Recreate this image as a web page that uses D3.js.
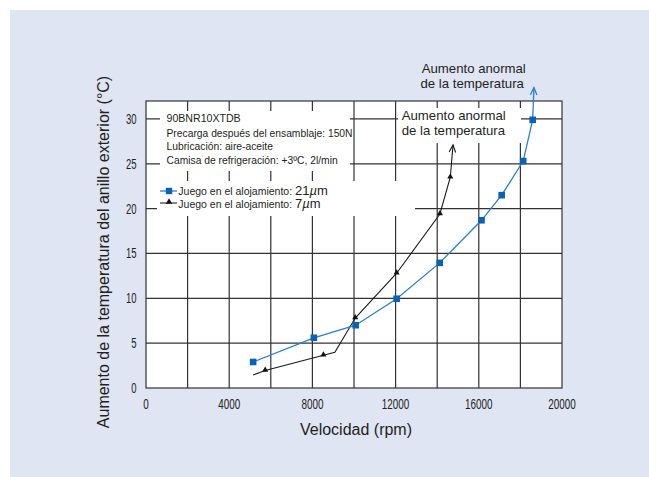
<!DOCTYPE html>
<html>
<head>
<meta charset="utf-8">
<script src="https://cdn.jsdelivr.net/npm/d3@7"></script>
<style>
  html, body { margin: 0; padding: 0; background: #ffffff; }
  svg { display: block; font-family: "Liberation Sans", Arial, Helvetica, sans-serif; }
</style>
</head>
<body>
<svg id="chart" width="649" height="477"></svg>
<script>
// ---- data ----
const xTicks = [0, 4000, 8000, 12000, 16000, 20000];
const xGrid = [2000, 4000, 6000, 8000, 10000, 12000, 14000, 16000, 18000];
const yTicks = [0, 5, 10, 15, 20, 25, 30];
const yGrid = [5, 10, 15, 20, 25, 30];

// Juego en el alojamiento: 21 µm (blue squares)
const blueX = [5150, 8070, 10080, 12050, 14120, 16130, 17100, 18135, 18590];
const blueY = [2.9, 5.6, 7.0, 9.95, 13.95, 18.7, 21.5, 25.3, 29.9];
const blueArrowTip = [18650, 33.5];

// Juego en el alojamiento: 7 µm (black triangles)
const blackX = [5150, 5730, 8530, 9080, 10060, 12050, 14130, 14630];
const blackY = [1.45, 1.95, 3.65, 3.98, 7.8, 12.8, 19.4, 23.5];
const blackMarker = [false, true, true, false, true, true, true, true];
const blackArrowTip = [14760, 27.1];

const infoLines = [
  "90BNR10XTDB",
  "Precarga después del ensamblaje: 150N",
  "Lubricación: aire-aceite",
  "Camisa de refrigeración: +3ºC, 2l/min"
];
const legendLabel = "Juego en el alojamiento: ";
const legendValues = ["21", "7"];
const annotation = ["Aumento anormal", "de la temperatura"];
const xTitle = "Velocidad (rpm)";
const yTitle = "Aumento de la temperatura del anillo exterior (°C)";

// ---- drawing ----
const svg = d3.select("#chart");
const textColor = "#231f20";
const gridColor = "#333333";
const blueLine = "#2a7fd0";
const blueMark = "#0a62b4";

svg.append("rect").attr("x", 10).attr("y", 10).attr("width", 639).attr("height", 467).attr("fill", "#dfe5f2");

const x = d3.scaleLinear().domain([0, 20000]).range([146, 562]);
const y = d3.scaleLinear().domain([0, 32]).range([388, 101]);

// plot background
svg.append("rect").attr("x", x(0)).attr("y", y(32)).attr("width", x(20000) - x(0)).attr("height", y(0) - y(32)).attr("fill", "#fff");

// gridlines
const g = svg.append("g").attr("stroke", gridColor).attr("stroke-width", 1.2);
g.selectAll("line.v").data(xGrid).join("line").attr("class", "v")
  .attr("x1", d => x(d)).attr("x2", d => x(d)).attr("y1", y(32)).attr("y2", y(0));
g.selectAll("line.h").data(yGrid).join("line").attr("class", "h")
  .attr("x1", x(0)).attr("x2", x(20000)).attr("y1", d => y(d)).attr("y2", d => y(d));
g.append("rect").attr("x", x(0)).attr("y", y(32)).attr("width", x(20000) - x(0)).attr("height", y(0) - y(32))
  .attr("fill", "none");

// white boxes behind texts
const boxes = [
  [160, 111, 190, 60],
  [157, 181, 258, 35],
  [398, 108, 123, 35]
];
svg.selectAll("rect.box").data(boxes).join("rect").attr("class", "box")
  .attr("x", d => d[0]).attr("y", d => d[1]).attr("width", d => d[2]).attr("height", d => d[3]).attr("fill", "#fff");

// tick labels (condensed)
svg.append("g").selectAll("text").data(xTicks).join("text")
  .attr("transform", d => `translate(${x(d)},409) scale(0.66,1)`)
  .attr("text-anchor", "middle").attr("font-size", 15).attr("fill", textColor).text(d => d);
svg.append("g").selectAll("text").data(yTicks).join("text")
  .attr("transform", d => `translate(136.5,${y(d) + 5}) scale(0.68,1)`)
  .attr("text-anchor", "end").attr("font-size", 14).attr("fill", textColor).text(d => d);

// axis titles
svg.append("text").attr("x", 356).attr("y", 435).attr("text-anchor", "middle")
  .attr("font-size", 16).attr("fill", textColor).text(xTitle);
svg.append("text").attr("transform", "translate(108.5,252) rotate(-90)").attr("text-anchor", "middle")
  .attr("font-size", 16).attr("fill", textColor).text(yTitle);

// info text
svg.append("g").selectAll("text").data(infoLines).join("text")
  .attr("x", 166.5).attr("y", (d, i) => [121.5, 136.5, 149.5, 163.5][i])
  .attr("font-size", (d, i) => i === 0 ? 10.6 : 10.3).attr("fill", textColor).text(d => d);

// legend
const leg = svg.append("g");
const legY = [191, 203];
const legT = [194.5, 208];
leg.append("line").attr("x1", 160).attr("x2", 177).attr("y1", legY[0]).attr("y2", legY[0]).attr("stroke", blueLine).attr("stroke-width", 1.3);
leg.append("rect").attr("x", 169 - 3.2).attr("y", legY[0] - 3.2).attr("width", 6.4).attr("height", 6.4).attr("fill", blueMark);
leg.append("line").attr("x1", 160).attr("x2", 177).attr("y1", legY[1]).attr("y2", legY[1]).attr("stroke", "#111").attr("stroke-width", 1);
leg.append("path").attr("d", d3.symbol(d3.symbolTriangle, 18)()).attr("transform", `translate(169,${legY[1] - 1})`).attr("fill", "#111");
legendValues.forEach((v, i) => {
  const t = leg.append("text").attr("x", 178.3).attr("y", legT[i]).attr("font-size", 10.5).attr("fill", textColor);
  t.append("tspan").text(legendLabel);
  t.append("tspan").attr("font-size", 13).text(v);
  t.append("tspan").attr("font-size", 13).attr("font-style", "italic").text("µ");
  t.append("tspan").attr("font-size", 13).text("m");
});

// annotations
svg.append("g").selectAll("text").data(annotation).join("text")
  .attr("x", (d, i) => i === 0 ? 421.7 : 420.5).attr("y", (d, i) => [72.5, 88][i])
  .attr("font-size", 13.2).attr("fill", textColor).text(d => d);
svg.append("g").selectAll("text").data(annotation).join("text")
  .attr("x", 401.7).attr("y", (d, i) => [119.5, 135][i])
  .attr("font-size", 13.2).attr("fill", textColor).text(d => d);

// series lines
const line = d3.line().x(d => x(d[0])).y(d => y(d[1]));
const blueData = blueX.map((v, i) => [v, blueY[i]]).concat([blueArrowTip]);
const blackData = blackX.map((v, i) => [v, blackY[i]]).concat([blackArrowTip]);

function arrowHead(from, tip, color, w) {
  const x1 = x(from[0]), y1 = y(from[1]), x2 = x(tip[0]), y2 = y(tip[1]);
  const a = Math.atan2(y2 - y1, x2 - x1);
  const len = 8, spread = 0.42;
  const p = d3.path();
  p.moveTo(x2 - len * Math.cos(a - spread), y2 - len * Math.sin(a - spread));
  p.lineTo(x2, y2);
  p.lineTo(x2 - len * Math.cos(a + spread), y2 - len * Math.sin(a + spread));
  svg.append("path").attr("d", p.toString()).attr("fill", "none").attr("stroke", color).attr("stroke-width", w);
}

svg.append("path").datum(blackData).attr("d", line).attr("fill", "none").attr("stroke", "#1a1a1a").attr("stroke-width", 1.1);
arrowHead(blackData[blackData.length - 2], blackArrowTip, "#1a1a1a", 1.1);
svg.append("g").selectAll("path").data(blackX.map((v, i) => [v, blackY[i], blackMarker[i]]).filter(d => d[2])).join("path")
  .attr("d", d3.symbol(d3.symbolTriangle, 16)())
  .attr("transform", d => `translate(${x(d[0])},${y(d[1]) - 0.5})`).attr("fill", "#111");

svg.append("path").datum(blueData).attr("d", line).attr("fill", "none").attr("stroke", blueLine).attr("stroke-width", 1.3);
arrowHead(blueData[blueData.length - 2], blueArrowTip, blueLine, 1.3);
svg.append("g").selectAll("rect").data(blueX.map((v, i) => [v, blueY[i]])).join("rect")
  .attr("x", d => x(d[0]) - 3.3).attr("y", d => y(d[1]) - 3.3).attr("width", 6.6).attr("height", 6.6).attr("fill", blueMark);
</script>
</body>
</html>
